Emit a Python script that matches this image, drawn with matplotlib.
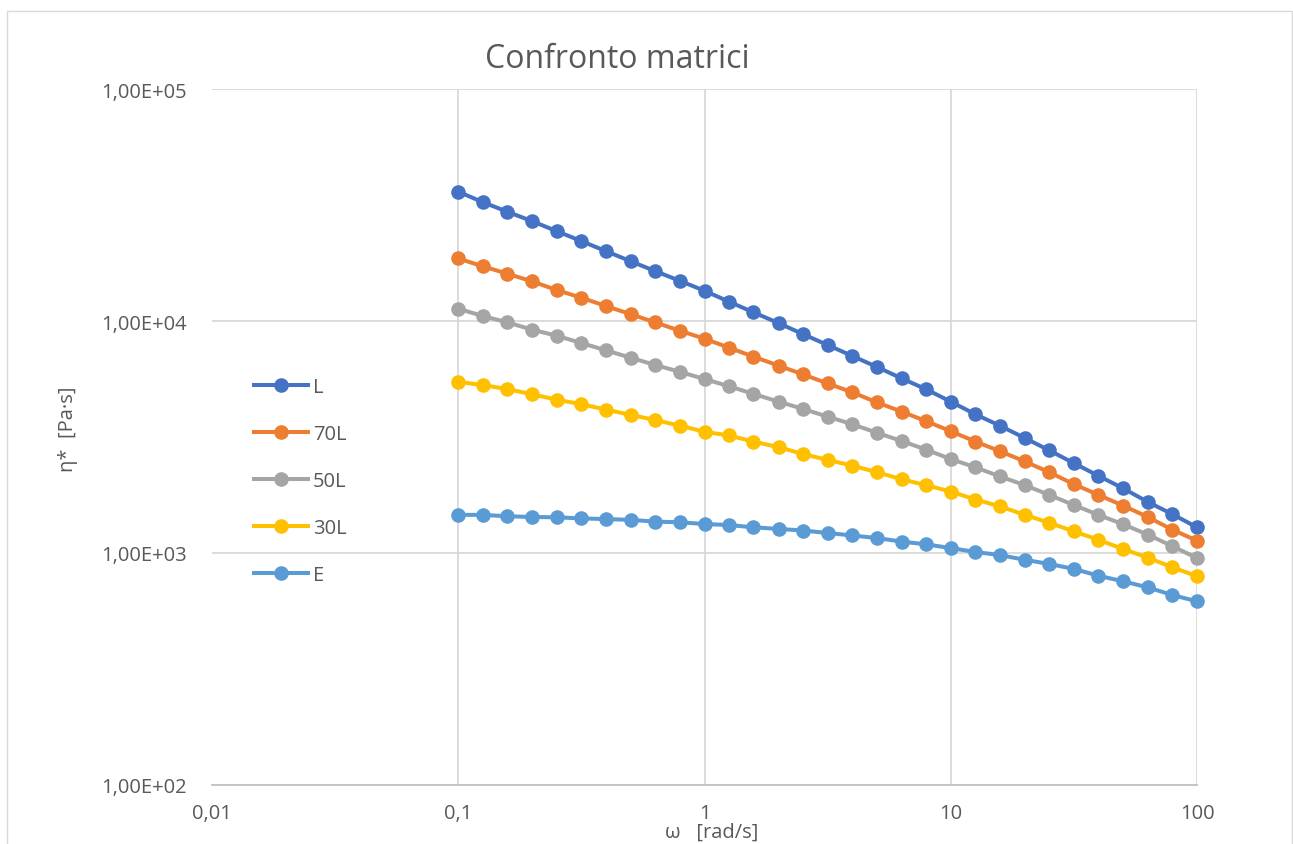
import matplotlib
matplotlib.use("Agg")
import matplotlib.pyplot as plt
from matplotlib.patches import Rectangle
from matplotlib.ticker import FixedLocator, FixedFormatter, NullLocator

plt.rcParams['font.family'] = ['Open Sans', 'DejaVu Sans']

# Angular frequency grid [rad/s]
omega = [0.1, 0.126, 0.158, 0.2, 0.251, 0.316, 0.398, 0.501, 0.631, 0.794,
         1.0, 1.26, 1.58, 2.0, 2.51, 3.16, 3.98, 5.01, 6.31, 7.94,
         10.0, 12.6, 15.8, 20.0, 25.1, 31.6, 39.8, 50.1, 63.1, 79.4, 100.0]

# Complex viscosity eta* [Pa·s] for each matrix
eta_L = [36100, 32500, 29600, 26900, 24400, 22100, 20000, 18100, 16400, 14900,
         13500, 12100, 10900, 9790, 8780, 7880, 7070, 6340, 5660, 5080,
         4490, 3960, 3540, 3130, 2770, 2440, 2150, 1900, 1660, 1470, 1290]
eta_70L = [18600, 17200, 16000, 14800, 13600, 12600, 11600, 10700, 9860, 9080,
           8390, 7670, 7020, 6420, 5890, 5380, 4930, 4460, 4070, 3700,
           3350, 3020, 2750, 2480, 2230, 1980, 1780, 1600, 1430, 1260, 1130]
eta_50L = [11300, 10500, 9870, 9170, 8640, 8040, 7470, 6950, 6460, 6040,
           5620, 5230, 4850, 4490, 4180, 3870, 3590, 3300, 3040, 2790,
           2540, 2340, 2140, 1960, 1780, 1610, 1460, 1330, 1200, 1070, 951]
eta_30L = [5470, 5290, 5090, 4830, 4580, 4380, 4150, 3940, 3740, 3540,
           3330, 3210, 3020, 2860, 2670, 2520, 2380, 2230, 2080, 1960,
           1840, 1700, 1590, 1460, 1350, 1240, 1140, 1040, 955, 868, 794]
eta_E = [1460, 1460, 1440, 1430, 1425, 1410, 1400, 1390, 1365, 1357,
         1333, 1320, 1290, 1270, 1250, 1220, 1190, 1160, 1120, 1090,
         1050, 1010, 980, 935, 897, 854, 798, 755, 711, 659, 619]

series_names = ['L', '70L', '50L', '30L', 'E']
series_values = [eta_L, eta_70L, eta_50L, eta_30L, eta_E]
series_colors = ['#4472C4', '#ED7D31', '#A5A5A5', '#FFC000', '#5B9BD5']

x_ticks = [0.01, 0.1, 1, 10, 100]
x_tick_labels = ['0,01', '0,1', '1', '10', '100']
y_ticks = [1e2, 1e3, 1e4, 1e5]
y_tick_labels = ['1,00E+02', '1,00E+03', '1,00E+04', '1,00E+05']

W, H = 1293, 845
fig = plt.figure(figsize=(W / 100, H / 100), dpi=100)
fig.patch.set_facecolor('white')

# chart-area border
fig.add_artist(Rectangle((7 / W, -0.05), (1292 - 7) / W, 1 - 12 / H + 0.05,
                         transform=fig.transFigure, fill=False,
                         edgecolor='#D9D9D9', linewidth=1.0))

left, right, top, bottom = 212, 1197, 90, 786
ax = fig.add_axes([left / W, 1 - bottom / H, (right - left) / W, (bottom - top) / H])
ax.set_xscale('log')
ax.set_yscale('log')
ax.set_xlim(0.01, 100)
ax.set_ylim(1e2, 1e5)

for name, vals, col in zip(series_names, series_values, series_colors):
    ax.plot(omega, vals, color=col, linewidth=2.9, marker='o', markersize=10.5,
            markeredgewidth=0, label=name, zorder=3, clip_on=False)

txt = '#595959'
fs = 14.5
ax.xaxis.set_major_locator(FixedLocator(x_ticks))
ax.xaxis.set_major_formatter(FixedFormatter(x_tick_labels))
ax.yaxis.set_major_locator(FixedLocator(y_ticks))
ax.yaxis.set_major_formatter(FixedFormatter(y_tick_labels))
ax.xaxis.set_minor_locator(NullLocator())
ax.yaxis.set_minor_locator(NullLocator())
ax.tick_params(axis='both', length=0, labelsize=fs, labelcolor=txt)
ax.tick_params(axis='x', pad=13)
ax.tick_params(axis='y', pad=18)

for xv in x_ticks[1:]:
    ax.axvline(xv, color='#D9D9D9', linewidth=1.3, zorder=1)
for yv in y_ticks[1:]:
    ax.axhline(yv, color='#D9D9D9', linewidth=1.3, zorder=1)

for s in ['left', 'top', 'right']:
    ax.spines[s].set_visible(False)
ax.spines['bottom'].set_color('#BFBFBF')
ax.spines['bottom'].set_linewidth(1.3)

fig.text(617 / W, 1 - 59 / H, 'Confronto matrici',
         ha='center', va='center', fontsize=23, color=txt)
fig.text(68 / W, 1 - 429 / H, 'η*  [Pa·s]', rotation=90, ha='center',
         va='center', fontsize=fs, color=txt)
fig.text(712 / W, 1 - 833 / H, 'ω   [rad/s]', ha='center', va='center',
         fontsize=fs, color=txt)

leg = ax.legend(loc='upper left', bbox_to_anchor=(254 / W, 1 - 378 / H),
                bbox_transform=fig.transFigure, frameon=False, fontsize=fs,
                handlelength=2.68, handletextpad=0.25, labelspacing=1.34,
                borderpad=0, borderaxespad=0)
for t in leg.get_texts():
    t.set_color(txt)

fig.savefig('out.png', dpi=100, facecolor='white')
